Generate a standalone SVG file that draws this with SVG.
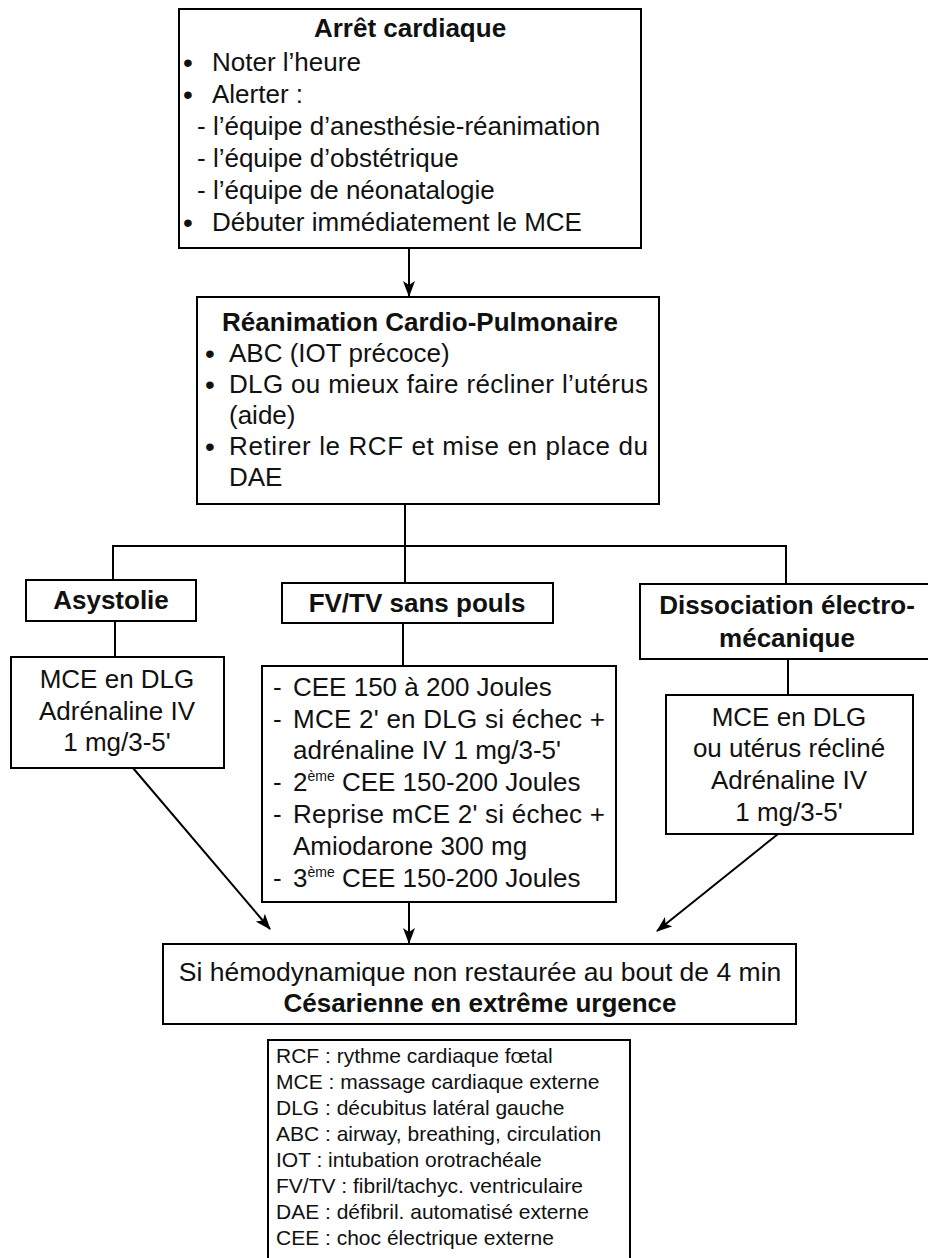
<svg xmlns="http://www.w3.org/2000/svg" width="928" height="1258" viewBox="0 0 928 1258">
<style>
.box{fill:#fff;stroke:#000;stroke-width:2}
.t{font-family:"Liberation Sans",Arial,sans-serif;font-size:26px;fill:#111}
.bu{font-family:"Liberation Sans",Arial,sans-serif;font-size:28px;fill:#111}
.b{font-weight:bold}
.c{text-anchor:middle}
.l{font-family:"Liberation Sans",Arial,sans-serif;font-size:21px;fill:#111}
.sup{font-size:14px}
.ln{fill:none;stroke:#000;stroke-width:2}
</style>
<defs>
<marker id="ah" markerWidth="16" markerHeight="12" refX="15" refY="6" orient="auto" markerUnits="userSpaceOnUse">
<path d="M0,0 L16,6 L0,12 L4,6 Z" fill="#000"/>
</marker>
</defs>
<rect width="928" height="1258" fill="#fff"/>
<g id="connectors">
<line class="ln" x1="409" y1="248" x2="409" y2="296" marker-end="url(#ah)"/>
<polyline class="ln" points="405,504 405,546"/>
<polyline class="ln" points="113,580 113,546 786,546 786,584"/>
<line class="ln" x1="405" y1="546" x2="405" y2="583"/>
<line class="ln" x1="115" y1="621" x2="115" y2="657"/>
<line class="ln" x1="403" y1="623" x2="403" y2="666"/>
<line class="ln" x1="788" y1="659" x2="788" y2="695"/>
<line class="ln" x1="133" y1="768" x2="270" y2="929" marker-end="url(#ah)"/>
<line class="ln" x1="409" y1="902" x2="409" y2="943" marker-end="url(#ah)"/>
<line class="ln" x1="778" y1="834" x2="657" y2="931" marker-end="url(#ah)"/>
</g>
<g id="n-arret">
<rect class="box" x="179" y="9" width="462" height="239"/>
<text class="t b c" x="410" y="37">Arrêt cardiaque</text>
<text class="bu" x="183" y="72">•</text><text class="t" x="212" y="71">Noter l’heure</text>
<text class="bu" x="183" y="104">•</text><text class="t" x="212" y="103">Alerter :</text>
<text class="t" x="197" y="135">- l’équipe d’anesthésie-réanimation</text>
<text class="t" x="197" y="167">- l’équipe d’obstétrique</text>
<text class="t" x="197" y="199">- l’équipe de néonatalogie</text>
<text class="bu" x="183" y="232">•</text><text class="t" x="212" y="231">Débuter immédiatement le MCE</text>
</g>
<g id="n-rcp">
<rect class="box" x="197" y="297" width="462" height="207"/>
<text class="t b c" x="420" y="331">Réanimation Cardio-Pulmonaire</text>
<text class="bu" x="205" y="363">•</text><text class="t" x="229" y="362">ABC (IOT précoce)</text>
<text class="bu" x="205" y="394">•</text><text class="t" x="229" y="393" textLength="419" lengthAdjust="spacing">DLG ou mieux faire récliner l’utérus</text>
<text class="t" x="229" y="424">(aide)</text>
<text class="bu" x="205" y="456">•</text><text class="t" x="229" y="455" textLength="419" lengthAdjust="spacing">Retirer le RCF et mise en place du</text>
<text class="t" x="229" y="486">DAE</text>
</g>
<g id="n-asystolie">
<rect class="box" x="26" y="580" width="170" height="41"/>
<text class="t b c" x="111" y="609">Asystolie</text>
</g>
<g id="n-fvtv">
<rect class="box" x="282" y="583" width="271" height="40"/>
<text class="t b c" x="417" y="612">FV/TV sans pouls</text>
</g>
<g id="n-dem">
<rect class="box" x="640" y="584" width="290" height="75"/>
<text class="t b c" x="787" y="614">Dissociation électro-</text>
<text class="t b c" x="787" y="647">mécanique</text>
</g>
<g id="n-asy-tx">
<rect class="box" x="11" y="657" width="213" height="111"/>
<text class="t c" x="117" y="688">MCE en DLG</text>
<text class="t c" x="117" y="720">Adrénaline IV</text>
<text class="t c" x="117" y="751">1 mg/3-5'</text>
</g>
<g id="n-fvtv-tx">
<rect class="box" x="262" y="666" width="354" height="236"/>
<text class="t" x="273" y="696">-</text><text class="t" x="293" y="696">CEE 150 à 200 Joules</text>
<text class="t" x="273" y="728">-</text><text class="t" x="293" y="728" textLength="312" lengthAdjust="spacing">MCE 2' en DLG si échec +</text>
<text class="t" x="293" y="759">adrénaline IV 1 mg/3-5'</text>
<text class="t" x="273" y="791">-</text><text class="t" x="293" y="791">2<tspan class="sup" dy="-10">ème</tspan><tspan dy="10"> CEE 150-200 Joules</tspan></text>
<text class="t" x="273" y="823">-</text><text class="t" x="293" y="823" textLength="312" lengthAdjust="spacing">Reprise mCE 2' si échec +</text>
<text class="t" x="293" y="855">Amiodarone 300 mg</text>
<text class="t" x="273" y="887">-</text><text class="t" x="293" y="887">3<tspan class="sup" dy="-10">ème</tspan><tspan dy="10"> CEE 150-200 Joules</tspan></text>
</g>
<g id="n-dem-tx">
<rect class="box" x="666" y="695" width="247" height="139"/>
<text class="t c" x="789" y="726">MCE en DLG</text>
<text class="t c" x="789" y="757">ou utérus récliné</text>
<text class="t c" x="789" y="789">Adrénaline IV</text>
<text class="t c" x="789" y="821">1 mg/3-5'</text>
</g>
<g id="n-cesar">
<rect class="box" x="163" y="944" width="633" height="80"/>
<text class="t c" x="480" y="981" style="font-size:26.5px">Si hémodynamique non restaurée au bout de 4 min</text>
<text class="t b c" x="480" y="1012">Césarienne en extrême urgence</text>
</g>
<g id="n-legend">
<rect class="box" x="268" y="1040" width="362" height="232"/>
<text class="l" x="276" y="1063">RCF : rythme cardiaque fœtal</text>
<text class="l" x="276" y="1089">MCE : massage cardiaque externe</text>
<text class="l" x="276" y="1115">DLG : décubitus latéral gauche</text>
<text class="l" x="276" y="1141">ABC : airway, breathing, circulation</text>
<text class="l" x="276" y="1167">IOT : intubation orotrachéale</text>
<text class="l" x="276" y="1193">FV/TV : fibril/tachyc. ventriculaire</text>
<text class="l" x="276" y="1219">DAE : défibril. automatisé externe</text>
<text class="l" x="276" y="1245">CEE : choc électrique externe</text>
</g>
</svg>
